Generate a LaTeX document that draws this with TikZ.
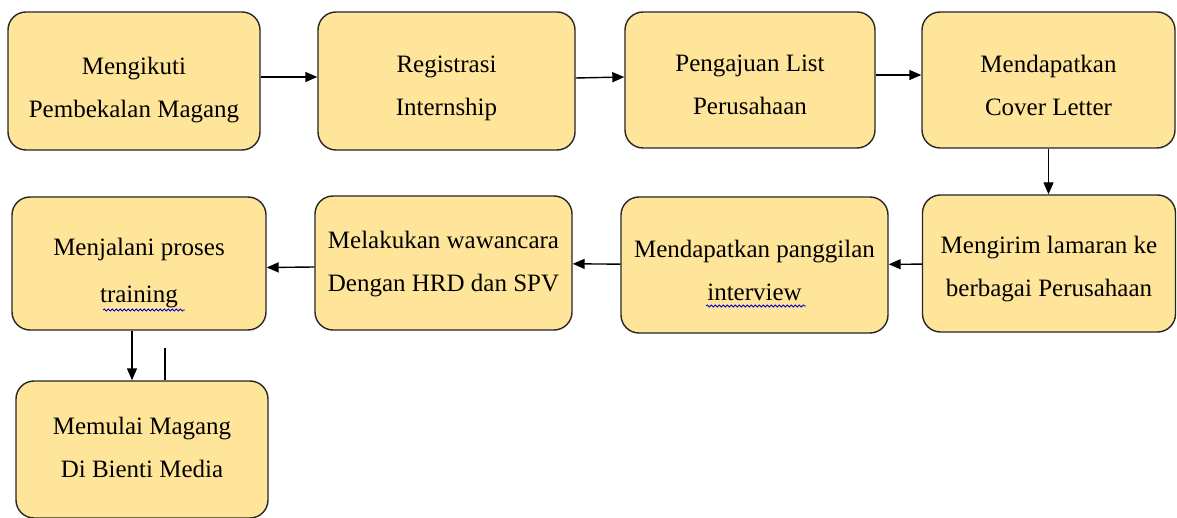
\documentclass[tikz,border=0pt]{standalone}
\usepackage{fontspec}
\setmainfont{Liberation Serif}
\usetikzlibrary{arrows.meta,decorations.pathmorphing}
\definecolor{boxfill}{HTML}{FFE599}
\begin{document}
\begin{tikzpicture}[x=1pt, y=-1pt,
    box/.style={draw=black!85, line width=1.4pt, fill=boxfill, rounded corners=18pt},
    txt/.style={align=center, font=\fontsize{25}{43}\selectfont},
    arr/.style={-{Triangle[length=12pt, width=10pt]}, line width=1.4pt},
    spell/.style={blue!80!black, line width=0.8pt,
                  decorate, decoration={snake, amplitude=1pt, segment length=4pt}}]
    \useasboundingbox (0, 0) rectangle (1177, 518);
    \node[box, minimum width=252pt, minimum height=138pt,
          label={[txt, name=ikut-t, yshift=-9pt]center:{Mengikuti\\Pembekalan Magang}}]
        (ikut) at (134, 81) {};
    \node[box, minimum width=257pt, minimum height=138pt,
          label={[txt, name=regis-t, yshift=-7pt]center:{Registrasi\\Internship}}]
        (regis) at (446.5, 81) {};
    \node[box, minimum width=250pt, minimum height=136pt,
          label={[txt, name=list-t, yshift=-5pt]center:{Pengajuan List\\Perusahaan}}]
        (list) at (750, 80) {};
    \node[box, minimum width=253pt, minimum height=136pt,
          label={[txt, name=cover-t, yshift=-5pt]center:{Mendapatkan\\Cover Letter}}]
        (cover) at (1048.5, 80) {};
    \node[box, minimum width=253pt, minimum height=137pt,
          label={[txt, name=kirim-t, yshift=-6pt]center:{Mengirim lamaran ke\\berbagai Perusahaan}}]
        (kirim) at (1049, 263.5) {};
    \node[box, minimum width=267pt, minimum height=136pt,
          label={[txt, name=panggil-t, yshift=-5pt]center:{Mendapatkan panggilan\\interview}}]
        (panggil) at (754.5, 265) {};
    \node[box, minimum width=257pt, minimum height=134pt,
          label={[txt, name=wawan-t, yshift=-1pt]center:{Melakukan wawancara\\Dengan HRD dan SPV}}]
        (wawan) at (443.5, 263) {};
    \node[box, minimum width=254pt, minimum height=133pt,
          label={[txt, name=train-t, yshift=-10pt]center:{Menjalani proses\\[4pt]training}}]
        (train) at (139, 263.5) {};
    \node[box, minimum width=252pt, minimum height=137pt,
          label={[txt, name=mulai-t, yshift=2pt]center:{Memulai Magang\\Di Bienti Media}}]
        (mulai) at (142, 449.5) {};
    \draw[arr] ([yshift=4pt]ikut.east) -- ([yshift=4pt]regis.west);
    \draw[arr] ([yshift=3pt]regis.east) -- ([yshift=3pt]list.west);
    \draw[arr] ([yshift=5pt]list.east) -- ([yshift=5pt]cover.west);
    \draw[arr] (cover) -- (cover.south |- kirim.north);
    \draw[arr] (kirim) -- (panggil);
    \draw[arr] (panggil) -- (wawan);
    \draw[arr] ([yshift=-4pt]wawan.west) -- ([yshift=-4pt]train.east);
    \draw[arr] ([xshift=-7pt]train.south) -- ([xshift=-7pt]train.south |- mulai.north);
    \coordinate (stub) at (165, 348);
    \draw[line width=1.2pt] (stub) -- (stub |- mulai.north);
    \draw[spell] (103, 310) -- (185, 310);
    \draw[spell] (706, 306) -- (806, 306);
\end{tikzpicture}
\end{document}
